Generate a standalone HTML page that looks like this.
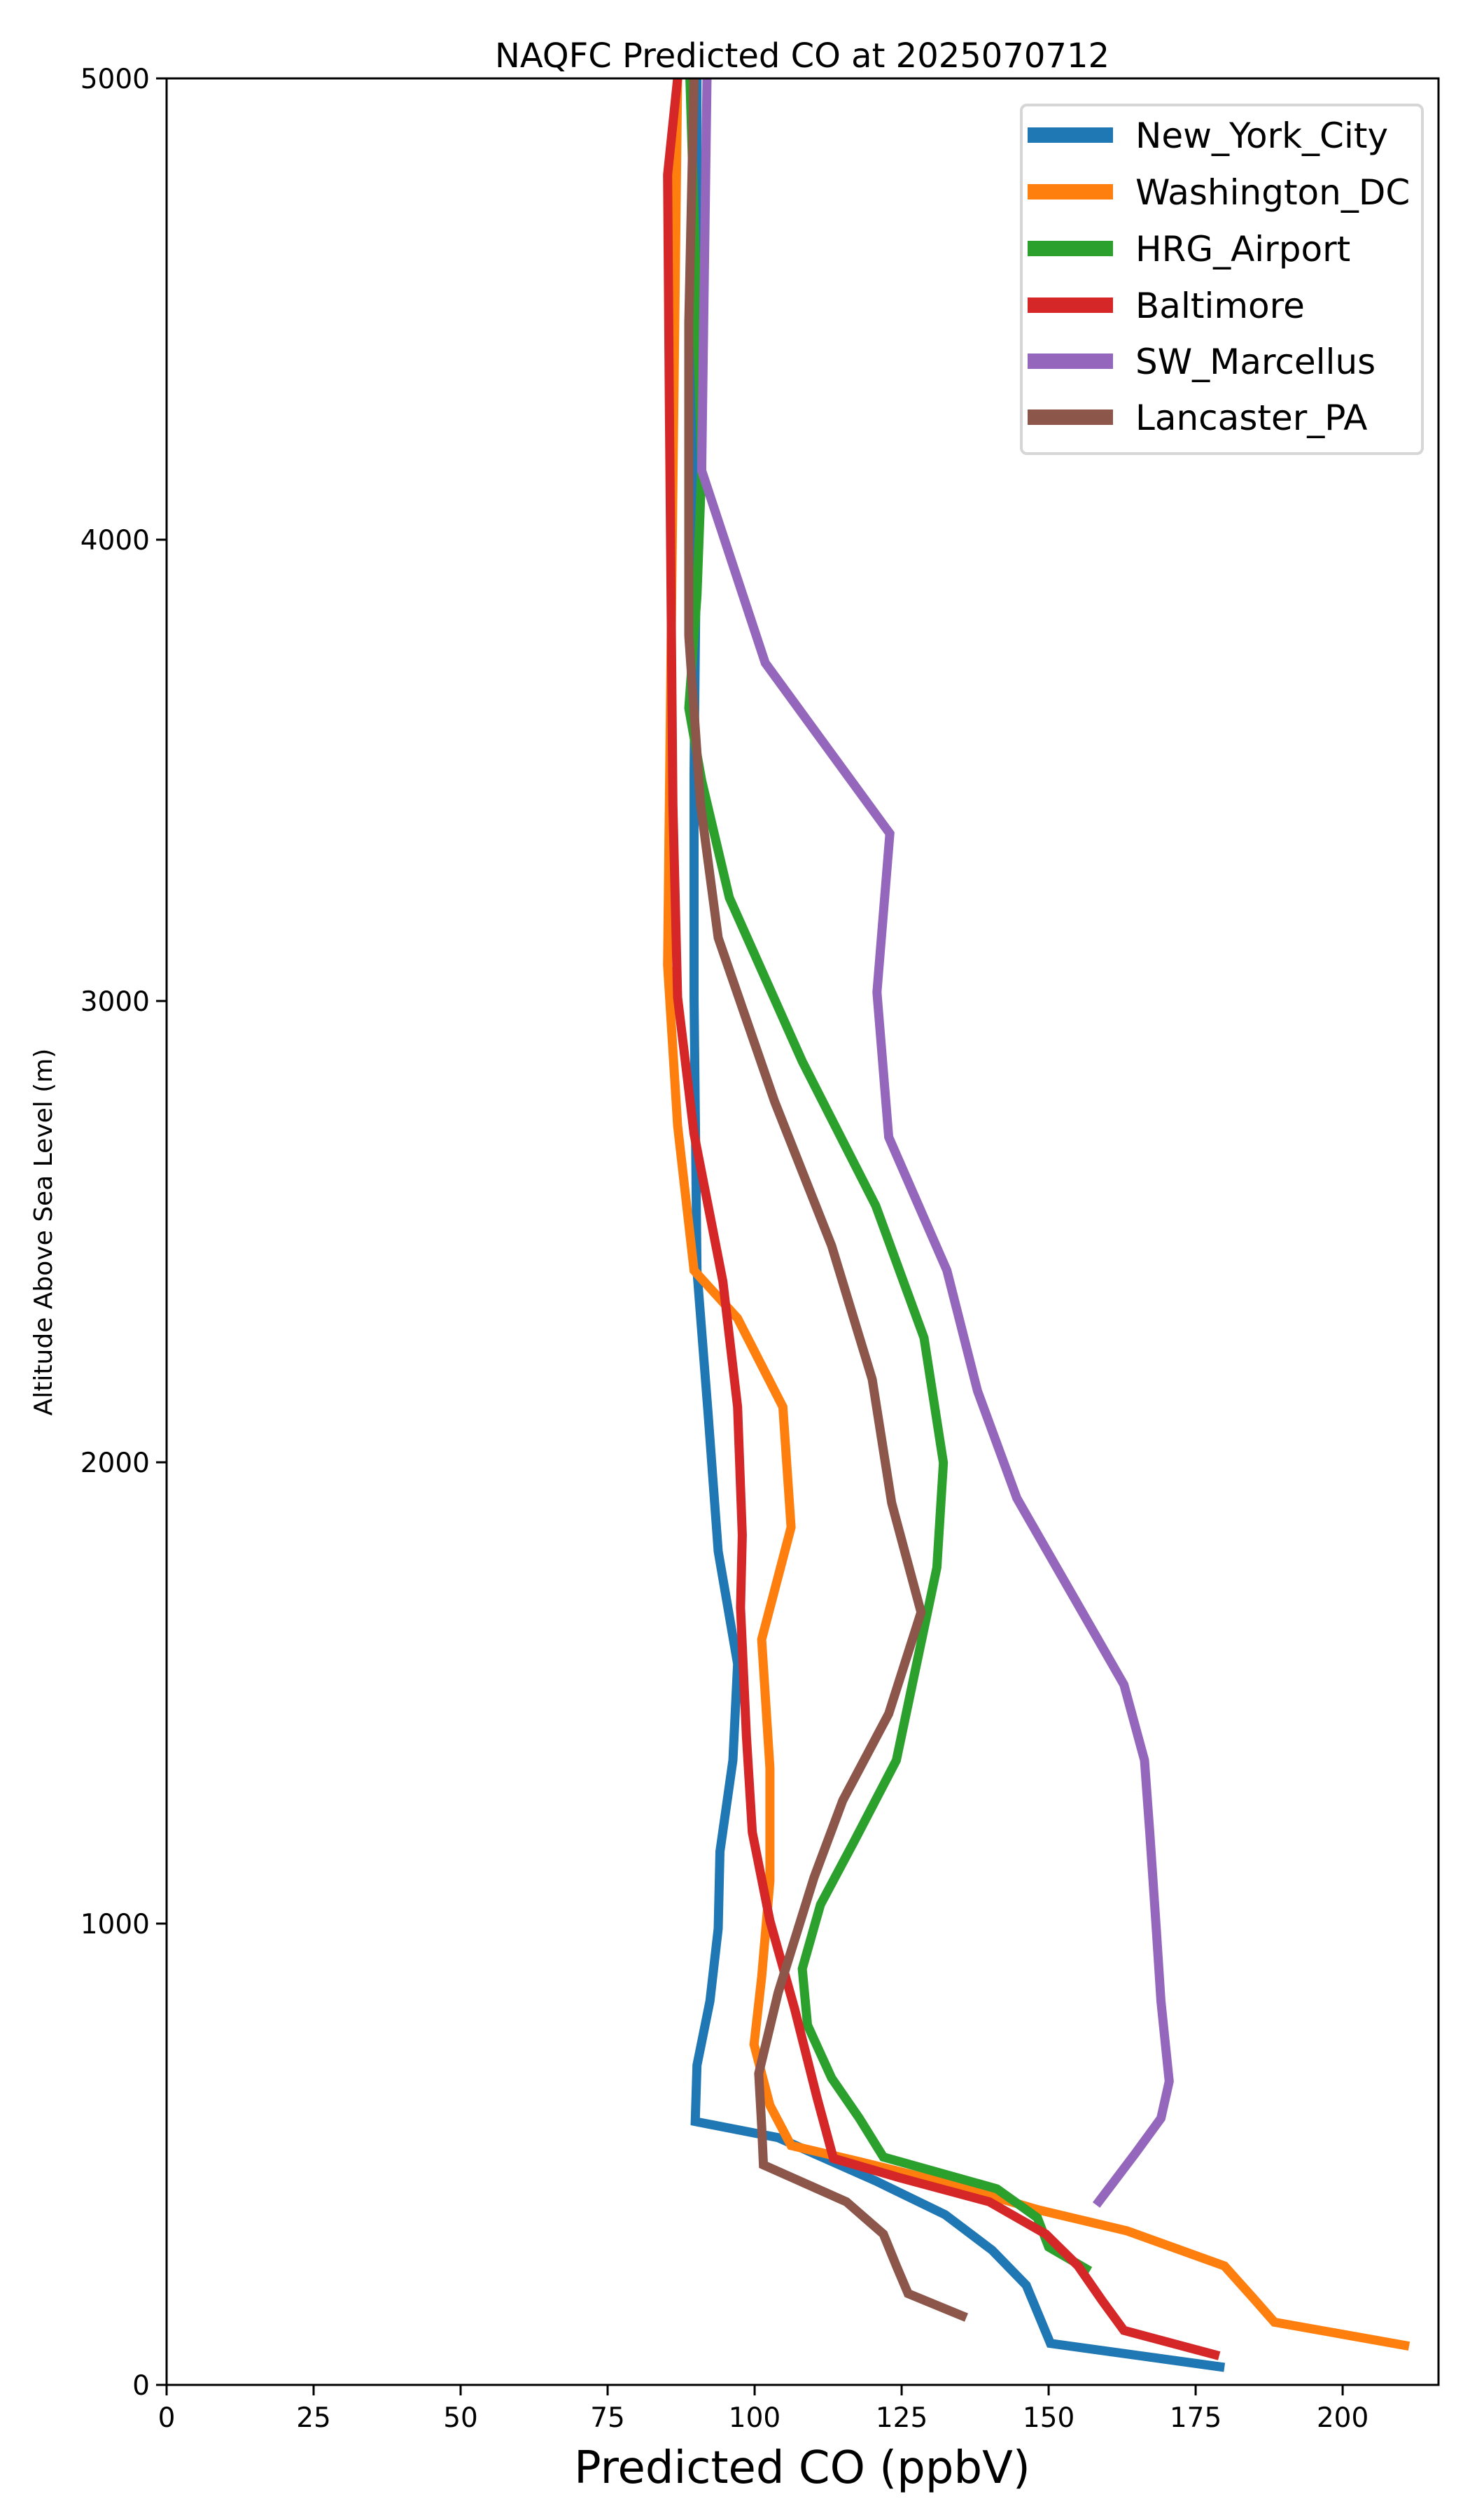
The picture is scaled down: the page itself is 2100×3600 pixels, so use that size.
<!DOCTYPE html>
<html><head><meta charset="utf-8"><style>
html,body{margin:0;padding:0;background:#fff;}
svg{display:block;font-family:"DejaVu Sans","Liberation Sans",sans-serif;}
</style></head><body>
<svg id="chart" width="2100" height="3600" viewBox="0 0 2100 3600" xmlns="http://www.w3.org/2000/svg">
<rect x="0" y="0" width="2100" height="3600" fill="#fff"/>
<text x="1146" y="96" font-size="48" text-anchor="middle">NAQFC Predicted CO at 2025070712</text>
<g id="series"></g>
<g id="axes"></g>
<g id="legend"></g>
<text x="1146" y="3547" font-size="64" text-anchor="middle">Predicted CO (ppbV)</text>
<text x="0" y="0" font-size="36" text-anchor="middle" transform="translate(74,1760) rotate(-90)">Altitude Above Sea Level (m)</text>
</svg>
<script>
const seriesNames = ["New_York_City","Washington_DC","HRG_Airport","Baltimore","SW_Marcellus","Lancaster_PA"];
const seriesColors = ["#1f77b4","#ff7f0e","#2ca02c","#d62728","#9467bd","#8c564b"];
const xTicks = [0,25,50,75,100,125,150,175,200];
const yTicks = [0,1000,2000,3000,4000,5000];
const nycCO = [179.9,150.3,146.2,140.4,132.4,120.6,104,89.9,90.2,92.4,93.8,94.1,96.3,97.1,93.8,92.1,90.2,89.7,89.7,90.2,90.2];
const nycAlt = [38,90,216,292,369,442,536,571,693,832,989,1156,1354,1563,1807,2103,2416,3008,3496,4122,5000];
const dcCO = [211.3,188.4,184.8,179.9,163.3,148.1,134.3,117.8,106.2,102.6,99.9,101.2,102.6,102.6,101.2,106.2,104.8,97.1,89.7,86.9,85.2,86.1,86.9];
const dcAlt = [84,136,188,258,334,380,432,484,519,606,738,884,1093,1337,1616,1859,2120,2312,2416,2730,3078,4122,5000];
const hrgCO = [157,150,148.1,141.2,121.9,117.8,113.1,109,108.1,111.2,117,124.1,131,132.1,128.8,120.6,108.1,95.7,91,88.8,90.2,91,89];
const hrgAlt = [247,299,362,425,494,578,665,780,902,1041,1180,1354,1772,1999,2270,2556,2869,3224,3478,3635,3879,4157,5000];
const balCO = [179,162.8,159.2,155,149.5,139.9,124.7,113.4,110.6,106.8,102.6,99.6,98.6,97.6,97.9,97.1,94.6,89.7,86.9,86.1,85.5,85.2,86.9];
const balAlt = [63,118,181,258,327,397,449,491,623,815,1006,1198,1407,1685,1842,2120,2392,2712,3008,3426,4297,4791,5000];
const swmCO = [158.1,164.7,169.1,170.5,169.1,168.3,167.2,166.3,162.8,144.6,137.9,132.7,122.8,120.8,123,101.8,91,91.9];
const swmAlt = [390,501,578,658,832,989,1198,1354,1518,1922,2155,2416,2705,3019,3363,3733,4150,5000];
const lanCO = [136,126.1,124.1,121.9,115.6,101.5,101.2,100.7,104,110.1,115,122.8,128.3,123.3,120,113.1,103.4,93.8,90.8,88.8,88.8,89.7];
const lanAlt = [146,198,258,327,397,477,561,675,850,1100,1267,1455,1675,1912,2180,2469,2782,3137,3426,3792,4471,5000];
const allCO = [nycCO,dcCO,hrgCO,balCO,swmCO,lanCO];
const allAlt = [nycAlt,dcAlt,hrgAlt,balAlt,swmAlt,lanAlt];

const L=238,R=2055,T=112,B=3407,XMAX=216.3,YMAX=5000;
const NS="http://www.w3.org/2000/svg";
function sx(v){return L+(v/XMAX)*(R-L);}
function sy(v){return B-(v/YMAX)*(B-T);}
function mk(tag,attrs,parent){const e=document.createElementNS(NS,tag);for(const k in attrs)e.setAttribute(k,attrs[k]);parent.appendChild(e);return e;}

const sg=document.getElementById('series');
const clip=mk('clipPath',{id:'plotclip'},sg);
mk('rect',{x:L,y:T,width:R-L,height:B-T},clip);
for(let i=0;i<seriesNames.length;i++){
  const pts=allCO[i].map((v,j)=>sx(v).toFixed(1)+','+sy(allAlt[i][j]).toFixed(1)).join(' ');
  const p=mk('polyline',{points:pts,fill:'none',stroke:seriesColors[i],'stroke-width':13,'stroke-linejoin':'miter','stroke-miterlimit':4,'clip-path':'url(#plotclip)'},sg);
  
  
}

const ag=document.getElementById('axes');
const frame=mk('rect',{x:L,y:T,width:R-L,height:B-T,fill:'none',stroke:'#000','stroke-width':3},ag);


xTicks.forEach(t=>{
  const x=sx(t);
  const tk=mk('line',{x1:x,y1:B,x2:x,y2:B+15,stroke:'#000','stroke-width':3},ag);
  
  
  const tx=mk('text',{x:x,y:B+60,'font-size':39,'text-anchor':'middle'},ag);
  tx.textContent=t;
  
  
});
yTicks.forEach(t=>{
  const y=sy(t);
  const tk=mk('line',{x1:L-15,y1:y,x2:L,y2:y,stroke:'#000','stroke-width':3},ag);
  
  
  const tx=mk('text',{x:L-24,y:y+14,'font-size':39,'text-anchor':'end'},ag);
  tx.textContent=t;
  
  
});

const lg=document.getElementById('legend');
const box=mk('rect',{x:1459,y:150,width:573,height:498,rx:8,fill:'#fff','fill-opacity':0.8,stroke:'#d6d6d6','stroke-width':4},lg);


const rowY=[193,274,355,436,516,596];
seriesNames.forEach((n,i)=>{
  const ln=mk('line',{x1:1468,y1:rowY[i],x2:1590,y2:rowY[i],stroke:seriesColors[i],'stroke-width':22},lg);
  
  
  const tx=mk('text',{x:1622,y:rowY[i]+18,'font-size':50},lg);
  tx.textContent=n;
  
  
});
</script>
</body></html>
